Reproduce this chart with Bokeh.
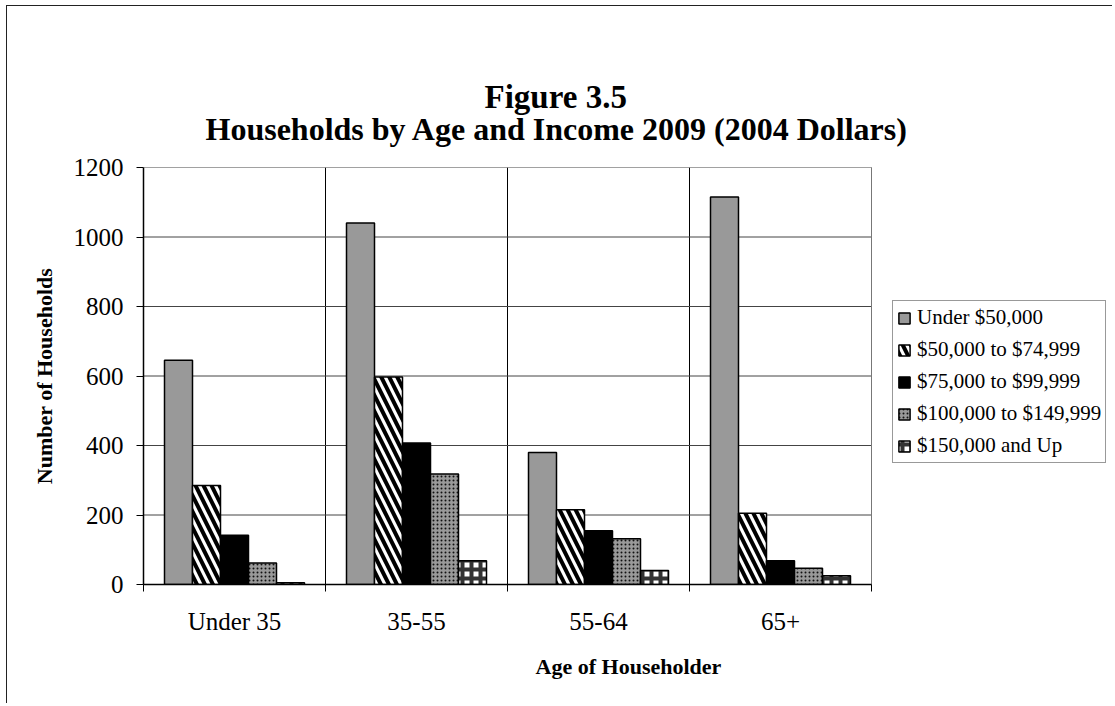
from bokeh.plotting import figure
from bokeh.models import (FixedTicker, Legend, LegendItem, Title, Range1d)
from bokeh.embed import file_html
from bokeh.resources import INLINE

# ---------------- data ----------------
categories = ["Under 35", "35-55", "55-64", "65+"]
series_names = ["Under $50,000", "$50,000 to $74,999", "$75,000 to $99,999",
                "$100,000 to $149,999", "$150,000 and Up"]
under_50k = [645, 1040, 380, 1115]
k50_to_75 = [285, 597, 215, 205]
k75_to_100 = [142, 407, 155, 68]
k100_to_150 = [62, 318, 132, 47]
k150_up = [5, 68, 40, 25]
y_ticks = [0, 200, 400, 600, 800, 1000, 1200]

series_values = [under_50k, k50_to_75, k75_to_100, k100_to_150, k150_up]

SERIF = "Liberation Serif"

# layout: plot area 728 px wide for the 4 categories; the frame is extended
# to the right so the legend can sit inside it.
W, H = 1106, 698
BL, BR, BT, BB = 136, 0, 161, 120
PLOT_W = 728
n_cat = len(categories)
x_end = n_cat * (W - BL - BR) / PLOT_W

p = figure(width=W, height=H, output_backend="svg", toolbar_location=None,
           x_range=Range1d(0, x_end), y_range=Range1d(0, 1200),
           min_border_left=BL, min_border_right=BR, min_border_top=BT,
           min_border_bottom=BB, title="Figure 3.5")
p.styles = {"border-left": "1px solid #222", "border-top": "1px solid #222",
            "margin-left": "6px", "margin-top": "5px"}
p.background_fill_color = "white"
p.border_fill_color = "white"
p.outline_line_color = None

# titles
p.title.text_font = SERIF
p.title.text_font_size = "33px"
p.title.text_font_style = "bold"
p.title.text_color = "black"
p.title.align = "left"
p.title.offset = 341
p.title.standoff = -54
t2 = Title(text="Households by Age and Income 2009 (2004 Dollars)", align="left",
           offset=62, text_font=SERIF, text_font_size="32px", text_font_style="bold",
           text_color="black", standoff=42)
p.add_layout(t2, "above")

# horizontal gridlines limited to the plot area
p.segment(x0=[0] * len(y_ticks), x1=[n_cat] * len(y_ticks), y0=y_ticks, y1=y_ticks,
          line_color="#444444", line_width=1)
# right edge of plot area
p.segment(x0=[n_cat], x1=[n_cat], y0=[0], y1=[1200], line_color="#777777", line_width=1)

# bars
bar_w = 1 / 6.5
styles = [
    dict(fill_color="#999999"),
    dict(fill_color="white", hatch_pattern="\\", hatch_color="black", hatch_scale=16, hatch_weight=4),
    dict(fill_color="black"),
    dict(fill_color="#999999", hatch_pattern=".", hatch_color="#111111", hatch_scale=4, hatch_weight=2),
    dict(fill_color="white", hatch_pattern="+", hatch_color="#333333", hatch_scale=9, hatch_weight=4),
]
centers = [i + 0.5 for i in range(n_cat)]
items = []
for k, (name, vals, st) in enumerate(zip(series_names, series_values, styles)):
    xs = [c + (k - 2) * bar_w for c in centers]
    r = p.vbar(x=xs, top=vals, width=bar_w, bottom=0, line_color="black",
               line_width=1.5, **st)
    items.append(LegendItem(label=name, renderers=[r]))

# x axis
xa = p.xaxis[0]
xa.bounds = (0, n_cat)
xa.ticker = FixedTicker(ticks=centers, minor_ticks=list(range(n_cat + 1)))
xa.major_label_overrides = {c: cat for c, cat in zip(centers, categories)}
xa.major_tick_out = 0
xa.major_tick_in = 0
xa.minor_tick_out = 7
xa.minor_tick_in = 0
xa.minor_tick_line_color = "black"
xa.axis_line_color = "black"
xa.axis_line_width = 1.5
xa.major_label_text_font = SERIF
xa.major_label_text_font_size = "25px"
xa.major_label_text_color = "black"
xa.major_label_standoff = 16
xa.axis_label = "Age of Householder"
xa.axis_label_text_font = SERIF
xa.axis_label_text_font_size = "22px"
xa.axis_label_text_font_style = "bold"
xa.axis_label_text_color = "black"
xa.axis_label_standoff = 16

# y axis
ya = p.yaxis[0]
ya.ticker = FixedTicker(ticks=y_ticks, minor_ticks=[])
ya.major_tick_out = 7
ya.major_tick_in = 0
ya.major_tick_line_color = "black"
ya.axis_line_color = "black"
ya.axis_line_width = 1.5
ya.major_label_text_font = SERIF
ya.major_label_text_font_size = "25px"
ya.major_label_text_color = "black"
ya.major_label_standoff = 13
ya.axis_label = "Number of Households"
ya.axis_label_text_font = SERIF
ya.axis_label_text_font_size = "22px"
ya.axis_label_text_font_style = "bold"
ya.axis_label_text_color = "black"
ya.axis_label_standoff = 14

# grids
p.xgrid.grid_line_color = None
p.xgrid.minor_grid_line_color = "black"
p.xgrid.minor_grid_line_width = 1
p.ygrid.grid_line_color = None

legend = Legend(items=items, location=(749, 121), orientation="vertical",
                label_text_font=SERIF, label_text_font_size="21px",
                label_text_color="black",
                glyph_width=14, glyph_height=14, label_height=22, spacing=7,
                padding=4, margin=0, label_standoff=6,
                border_line_color="#333333", border_line_width=1,
                background_fill_color="white", background_fill_alpha=1)
p.add_layout(legend, "center")

open("out.html", "w").write(file_html(p, INLINE))
